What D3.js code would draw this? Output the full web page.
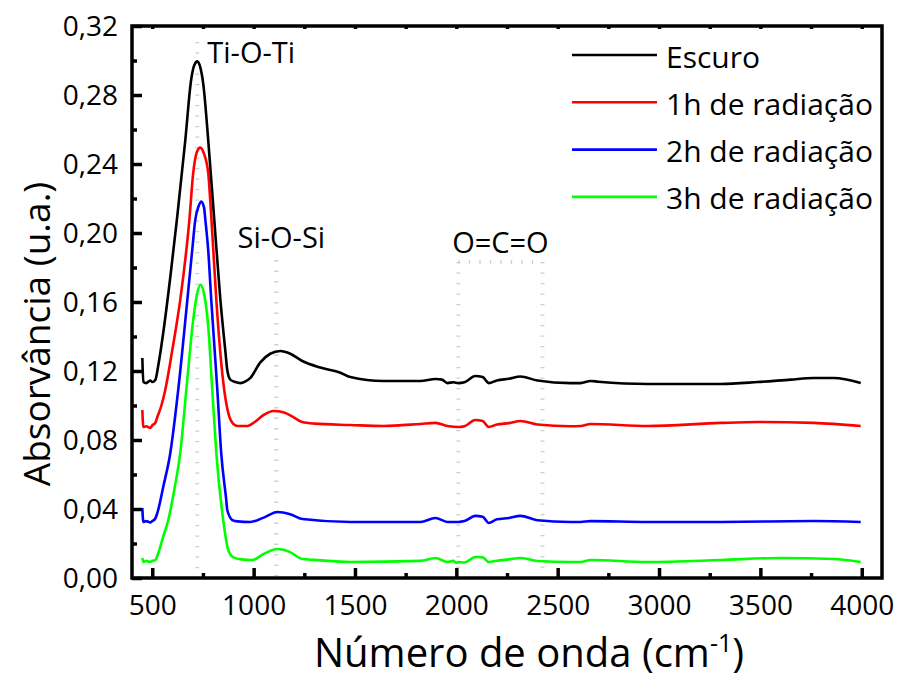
<!DOCTYPE html>
<html>
<head>
<meta charset="utf-8">
<script src="https://cdn.jsdelivr.net/npm/d3@7"></script>
<style>
  body { margin: 0; background: #fff; }
  svg { display: block; }
  text { font-family: "Open Sans", sans-serif; fill: #000; }
</style>
</head>
<body>
<svg id="chart" width="898" height="679"></svg>
<script>
// FTIR spectra: wavenumber (cm-1) and absorbance (u.a.) for each exposure time
const wnEscuro = [451,456,470,490,500,515,530,554,589,623,663,692,708,722,737,752,776,806,836,860,870,885,910,934,960,984,1033,1082,1132,1181,1240,1329,1428,1477,1640,1823,1897,1930,1956,1986,2010,2040,2094,2130,2160,2200,2260,2316,2400,2563,2613,2662,2700,2944,3304,3487,3650,3763,3862,3995];
const absEscuro = [.1275,.1136,.1130,.1145,.1136,.1148,.1235,.1420,.1745,.2093,.2539,.2890,.2975,.2995,.2960,.2860,.2539,.2075,.1612,.1322,.1206,.1150,.1136,.1130,.1140,.1160,.1250,.1300,.1316,.1300,.1258,.1220,.1190,.1165,.1142,.1142,.1154,.1150,.1130,.1135,.1130,.1135,.1171,.1165,.1130,.1145,.1155,.1168,.1145,.1130,.1130,.1142,.1138,.1125,.1125,.1136,.1150,.1159,.1159,.1130];

const wn1h = [451,456,470,490,500,515,525,545,564,600,638,683,702,720,737,755,776,786,816,840,855,875,895,920,969,1000,1050,1097,1150,1200,1240,1300,1477,1640,1823,1897,1956,2010,2040,2094,2130,2160,2200,2260,2316,2400,2563,2613,2662,2944,3304,3487,3763,3995];
const abs1h = [.0974,.0875,.0880,.0870,.0885,.0900,.0933,.1000,.1090,.1330,.1612,.2075,.2348,.2470,.2495,.2460,.2348,.2191,.1612,.1250,.1090,.0957,.0900,.0881,.0881,.0900,.0945,.0968,.0960,.0930,.0904,.0895,.0887,.0881,.0893,.0899,.0881,.0875,.0880,.0916,.0910,.0875,.0890,.0898,.0910,.0890,.0880,.0881,.0893,.0881,.0899,.0904,.0899,.0881];

const wn2h = [451,456,470,490,500,515,525,554,589,628,673,697,712,730,742,755,762,776,791,821,840,865,870,895,920,984,1050,1117,1180,1240,1477,1823,1897,1956,2010,2040,2094,2130,2160,2200,2260,2316,2400,2563,2613,2662,2944,3304,3763,3995];
const abs2h = [.0406,.0325,.0330,.0322,.0330,.0345,.0377,.0528,.0725,.1090,.1612,.1900,.2075,.2160,.2183,.2150,.2075,.1900,.1612,.1090,.0725,.0452,.0394,.0336,.0328,.0325,.0350,.0383,.0370,.0342,.0325,.0325,.0348,.0325,.0325,.0330,.0360,.0355,.0319,.0340,.0348,.0360,.0335,.0325,.0325,.0330,.0325,.0325,.0330,.0325];

const wn3h = [451,456,470,490,500,515,530,554,579,610,638,668,702,720,737,755,776,796,816,850,875,900,940,994,1050,1117,1180,1240,1300,1477,1823,1897,1956,1985,2000,2010,2040,2094,2130,2160,2200,2260,2316,2400,2563,2613,2662,2944,3304,3600,3862,3995];
const abs3h = [.0116,.0093,.0099,.0093,.0099,.0104,.0145,.0240,.0336,.0520,.0725,.1090,.1496,.1640,.1700,.1650,.1460,.1090,.0725,.0336,.0162,.0120,.0108,.0104,.0140,.0168,.0150,.0110,.0105,.0093,.0099,.0116,.0093,.0099,.0088,.0093,.0090,.0122,.0120,.0093,.0100,.0108,.0116,.0099,.0093,.0093,.0104,.0093,.0104,.0116,.0110,.0093];

const seriesNames = ["Escuro", "1h de radiação", "2h de radiação", "3h de radiação"];
const seriesColors = ["#000000", "#ff0000", "#0000ff", "#00ff00"];

// Axis ticks
const xMajorTicks = [500,1000,1500,2000,2500,3000,3500,4000];
const xMinorTicks = [750,1250,1750,2250,2750,3250,3750];
const yMajorTicks = [0,0.04,0.08,0.12,0.16,0.20,0.24,0.28,0.32];
const yMinorTicks = [0.02,0.06,0.10,0.14,0.18,0.22,0.26,0.30];

// Band assignments: label, wavenumbers of the marker lines, absorbance where the markers start
const bandLabels = ["Ti-O-Ti", "Si-O-Si", "O=C=O"];
const bandWavenumbers = [[722], [1112], [2010, 2425]];
const bandTops = [0.3107, 0.1843, 0.1832];

const svg = d3.select("#chart");
const margin = { left: 132, right: 16, top: 26, bottom: 101 };
const W = 898, H = 679;

const x = d3.scaleLinear().domain([400, 4100]).range([margin.left, W - margin.right]);
const y = d3.scaleLinear().domain([0, 0.32]).range([H - margin.bottom, margin.top]);

const fmtY = v => d3.format(".2f")(v).replace(".", ",");

// Band marker lines (drawn first, under the spectra)
const guide = svg.append("g").attr("class", "bands")
  .attr("stroke", "#cfcfcf").attr("stroke-width", 4)
  .attr("stroke-dasharray", "1.3 9.2").attr("fill", "none");
bandWavenumbers.forEach((wns, i) => {
  wns.forEach(w => {
    guide.append("line")
      .attr("x1", x(w)).attr("x2", x(w))
      .attr("y1", y(bandTops[i])).attr("y2", y(0));
  });
  if (wns.length > 1) {
    guide.append("line")
      .attr("x1", x(wns[0])).attr("x2", x(wns[wns.length - 1]))
      .attr("y1", y(bandTops[i])).attr("y2", y(bandTops[i]));
  }
});

// Spectra
const spectra = [
  { name: seriesNames[0], color: seriesColors[0], wn: wnEscuro, abs: absEscuro },
  { name: seriesNames[1], color: seriesColors[1], wn: wn1h, abs: abs1h },
  { name: seriesNames[2], color: seriesColors[2], wn: wn2h, abs: abs2h },
  { name: seriesNames[3], color: seriesColors[3], wn: wn3h, abs: abs3h }
];
const line = d3.line()
  .x(d => x(d[0])).y(d => y(d[1]))
  .curve(d3.curveMonotoneX);
svg.append("g").attr("class", "spectra")
  .selectAll("path").data(spectra.slice().reverse()).join("path")
  .attr("d", s => line(d3.zip(s.wn, s.abs)))
  .attr("fill", "none")
  .attr("stroke", s => s.color)
  .attr("stroke-width", 2.6)
  .attr("stroke-linejoin", "round");

// Axes: ticks point inward
const y0 = y(0), xL = x.range()[0], xR = x.range()[1], yT = y.range()[1];
const axisStyle = g => {
  g.select(".domain").remove();
  g.selectAll(".tick line").attr("stroke", "#000").attr("stroke-width", 3.5);
};

const xAxis = svg.append("g").attr("transform", `translate(0,${y0})`)
  .call(d3.axisBottom(x).tickValues(xMajorTicks).tickSizeInner(-10).tickSizeOuter(0).tickFormat(d3.format("d")))
  .call(axisStyle);
xAxis.selectAll("text").attr("y", 37).attr("dy", null)
  .style("font-size", "28px").style("font-family", "'Open Sans', sans-serif");

svg.append("g").attr("transform", `translate(0,${y0})`)
  .call(d3.axisBottom(x).tickValues(xMinorTicks).tickSizeInner(-5).tickSizeOuter(0).tickFormat(""))
  .call(axisStyle);

// small ticks along the top edge
svg.append("g").attr("transform", `translate(0,${yT})`)
  .call(d3.axisTop(x).tickValues(xMajorTicks.concat(xMinorTicks)).tickSizeInner(-3).tickSizeOuter(0).tickFormat(""))
  .call(axisStyle);

const yAxis = svg.append("g").attr("transform", `translate(${xL},0)`)
  .call(d3.axisLeft(y).tickValues(yMajorTicks).tickSizeInner(-10).tickSizeOuter(0).tickFormat(fmtY))
  .call(axisStyle);
yAxis.selectAll("text").attr("x", -14).attr("dy", "0.35em")
  .style("font-size", "28px").style("font-family", "'Open Sans', sans-serif");

svg.append("g").attr("transform", `translate(${xL},0)`)
  .call(d3.axisLeft(y).tickValues(yMinorTicks).tickSizeInner(-5).tickSizeOuter(0).tickFormat(""))
  .call(axisStyle);

// Frame
svg.append("rect")
  .attr("x", xL).attr("y", yT)
  .attr("width", xR - xL).attr("height", y0 - yT)
  .attr("fill", "none").attr("stroke", "#000").attr("stroke-width", 3.5);

// Band labels
const bandLabelPos = [
  { x: x(bandWavenumbers[0][0]) + 10, y: 63, anchor: "start" },
  { x: x(bandWavenumbers[1][0]) + 5, y: 248, anchor: "middle" },
  { x: (x(bandWavenumbers[2][0]) + x(bandWavenumbers[2][1])) / 2, y: 253, anchor: "middle" }
];
bandLabels.forEach((t, i) => {
  svg.append("text")
    .attr("x", bandLabelPos[i].x).attr("y", bandLabelPos[i].y)
    .attr("text-anchor", bandLabelPos[i].anchor)
    .style("font-size", "29px").text(t);
});

// Legend
const legend = svg.append("g").attr("transform", "translate(572,55)");
spectra.forEach((s, i) => {
  const g = legend.append("g").attr("transform", `translate(0,${i * 47.3})`);
  g.append("line").attr("x1", 0).attr("x2", 85).attr("y1", 0).attr("y2", 0)
    .attr("stroke", s.color).attr("stroke-width", 2.6);
  g.append("text").attr("x", 94).attr("y", 12.5)
    .style("font-size", "30px").text(s.name);
});

// Axis titles
svg.append("text")
  .attr("transform", "translate(50,334) rotate(-90)")
  .attr("text-anchor", "middle")
  .style("font-size", "37px")
  .text("Absorvância (u.a.)");

const xt = svg.append("text")
  .attr("x", 529).attr("y", 667)
  .attr("text-anchor", "middle")
  .style("font-size", "40px");
xt.append("tspan").text("Número de onda (cm");
xt.append("tspan").attr("dy", -15).style("font-size", "25px").text("-1");
xt.append("tspan").attr("dy", 15).text(")");
</script>
</body>
</html>
